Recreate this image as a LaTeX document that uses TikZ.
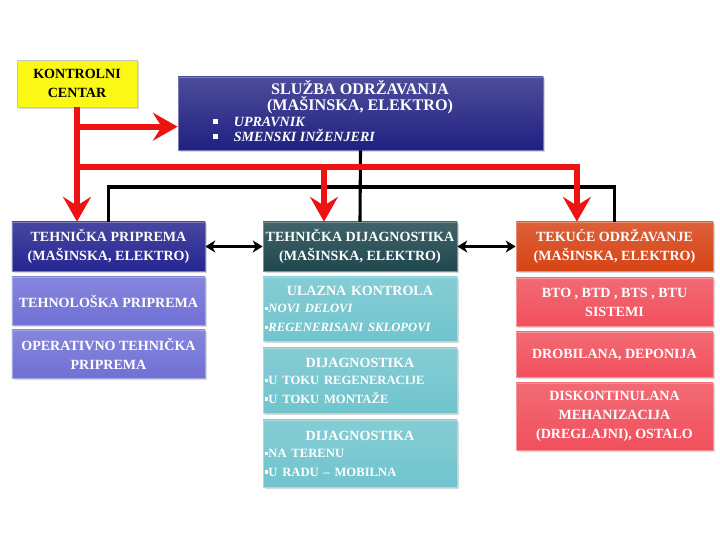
\documentclass[tikz,border=0pt]{standalone}
\usepackage{fontspec}
\setmainfont{Liberation Serif}
\usetikzlibrary{arrows.meta, positioning, calc, shadows}
\definecolor{kcyellow}{RGB}{250,248,20}
\definecolor{sldark}{RGB}{32,32,130}
\definecolor{tpdark}{RGB}{38,38,145}
\definecolor{tplight}{RGB}{112,112,214}
\definecolor{tddark}{RGB}{30,72,78}
\definecolor{tdlight}{RGB}{112,196,205}
\definecolor{todark}{RGB}{215,68,22}
\definecolor{tolight}{RGB}{240,80,92}
\definecolor{myred}{RGB}{238,18,18}
\newcommand{\boxfont}{\fontsize{10}{13.5}\selectfont\bfseries}
\newcommand{\sqb}{\rule[0.35ex]{0.6ex}{0.6ex}}
\newcommand{\boxlist}[3]{\setlength{\parindent}{0pt}%
  {\centering\fontsize{10}{12}\selectfont #1\par}%
  \raggedright\fontsize{9}{12}\selectfont\sqb#2\\\sqb#3}
\tikzset{
  shd/.style={drop shadow={shadow xshift=1.3pt, shadow yshift=-1.3pt, opacity=0.3}},
  bxY/.style={draw=gray!45, fill=kcyellow, text=black, minimum width=#1,
              align=center, font=\boxfont, line width=0.6pt, inner sep=1pt, shd},
  bxS/.style={draw=sldark!60!white, top color=sldark!80!white, bottom color=sldark,
              minimum width=#1, inner sep=1pt, line width=0.5pt, shd},
  bxDB/.style={draw=tpdark!60!white, top color=tpdark!85!white, bottom color=tpdark,
               text=white, minimum width=#1, align=center, font=\boxfont,
               inner sep=1pt, line width=0.5pt, shd},
  bxLB/.style={draw=tplight!60!white, top color=tplight!85!white, bottom color=tplight,
               text=white, minimum width=#1, align=center, font=\boxfont,
               inner sep=1pt, line width=0.5pt, shd},
  bxDT/.style={draw=tddark!60!white, top color=tddark!85!white, bottom color=tddark,
               text=white, minimum width=#1, align=center, font=\boxfont,
               inner sep=1pt, line width=0.5pt, shd},
  bxLT/.style={draw=tdlight!60!white, top color=tdlight!85!white, bottom color=tdlight,
               text=white, minimum width=#1, font=\boxfont,
               inner xsep=0.05cm, inner ysep=1pt, line width=0.5pt, shd},
  bxDO/.style={draw=todark!60!white, top color=todark!85!white, bottom color=todark,
               text=white, minimum width=#1, align=center, font=\boxfont,
               inner sep=1pt, line width=0.5pt, shd},
  bxLR/.style={draw=tolight!60!white, top color=tolight!85!white, bottom color=tolight,
               text=white, minimum width=#1, align=center, font=\boxfont,
               inner sep=1pt, line width=0.5pt, shd},
  redarr/.style={-{Stealth[length=0.62cm, width=0.7cm, inset=0.22cm]}, myred, line width=4.3pt},
  blk/.style={black, line width=2.2pt},
  dbl/.style={{Stealth[length=7pt, width=8.5pt, inset=2pt]}-{Stealth[length=7pt, width=8.5pt, inset=2pt]},
              black, line width=1.6pt},
}
\begin{document}
\begin{tikzpicture}
  \useasboundingbox (0,0) rectangle (18,13.5);
  % ── top: control centre and service ─────────────────────
  \node[bxY=3cm, minimum height=1.175cm] (kc) at (1.925,11.4125) {KONTROLNI\\CENTAR};
  \node[bxS=9.125cm, minimum height=1.825cm] (sl) at (9.0125,10.6625) {};
  \node[font=\fontsize{11.5}{11}\selectfont\bfseries, text=white, align=center]
    (slname) at (9.0,11.075) {SLUŽBA ODRŽAVANJA\\(MAŠINSKA, ELEKTRO)};
  \node[font=\fontsize{10}{10.6}\selectfont\bfseries\itshape, text=white, align=left,
        anchor=west, inner sep=0pt] (slstaff) at (5.33,10.27)
    {\rule[0.3ex]{3.5pt}{3.5pt}\hspace{11pt}UPRAVNIK\\
     \rule[0.3ex]{3.5pt}{3.5pt}\hspace{11pt}SMENSKI INŽENJERI};

  % ── left column ─────────────────────────────────────────
  \node[bxDB=4.825cm, minimum height=1.225cm] (tp) at (2.7125,7.3375)
    {TEHNIČKA PRIPREMA\\(MAŠINSKA, ELEKTRO)};
  \node[bxLB=4.825cm, minimum height=1.2cm] (tl) at (2.7125,5.975) {TEHNOLOŠKA PRIPREMA};
  \node[bxLB=4.825cm, minimum height=1.2cm] (op) at (2.7125,4.65)
    {OPERATIVNO TEHNIČKA\\PRIPREMA};

  % ── middle column ───────────────────────────────────────
  \node[bxDT=4.85cm, minimum height=1.225cm] (td) at (9.0,7.3375)
    {TEHNIČKA DIJAGNOSTIKA\\(MAŠINSKA, ELEKTRO)};
  \node[bxLT=4.85cm, minimum height=1.6cm, text width=4.75cm] (uk) at (9.0,5.775)
    {\boxlist{ULAZNA KONTROLA}{\itshape NOVI DELOVI}{\itshape REGENERISANI SKLOPOVI}};
  \node[bxLT=4.85cm, minimum height=1.625cm, text width=4.75cm] (dg1) at (9.0,3.9875)
    {\boxlist{DIJAGNOSTIKA}{U TOKU REGENERACIJE}{U TOKU MONTAŽE}};
  \node[bxLT=4.85cm, minimum height=1.675cm, text width=4.75cm] (dg2) at (9.0,2.1625)
    {\boxlist{DIJAGNOSTIKA}{NA TERENU}{U RADU – MOBILNA}};

  % ── right column ────────────────────────────────────────
  \node[bxDO=4.925cm, minimum height=1.225cm] (to) at (15.3625,7.3375)
    {TEKUĆE ODRŽAVANJE\\(MAŠINSKA, ELEKTRO)};
  \node[bxLR=4.925cm, minimum height=1.2cm] (bt) at (15.3625,5.95)
    {BTO , BTD , BTS , BTU\\SISTEMI};
  \node[bxLR=4.925cm, minimum height=1.125cm] (dr) at (15.3625,4.6375) {DROBILANA, DEPONIJA};
  \node[bxLR=4.925cm, minimum height=1.675cm] (dk) at (15.3625,3.0875)
    {DISKONTINULANA\\MEHANIZACIJA\\(DREGLAJNI), OSTALO};

  % ── connectors ──────────────────────────────────────────
  \coordinate (slin) at ($(sl.west)+(0,-0.33)$);
  \coordinate (rbus) at (0,9.325);
  \coordinate (bbus) at (0,8.825);
  \coordinate (tdin) at ($(td.north)+(-0.9,0)$);
  \coordinate (toin) at ($(to.north)+(-0.94,0)$);

  \draw[blk] (sl.south) -- (td.north);
  \draw[blk] (tp.north) |- (to.north |- bbus) -- (to.north);

  \draw[redarr] (kc.south) -- (kc.south |- tp.north);
  \draw[redarr] (kc.south |- slin) -- (slin);
  \draw[redarr] (kc.south |- rbus) -| (toin);
  \draw[redarr] (tdin |- rbus) -- (tdin);

  \draw[dbl] (tp.east) -- (td.west);
  \draw[dbl] (td.east) -- (to.west);
\end{tikzpicture}
\end{document}
